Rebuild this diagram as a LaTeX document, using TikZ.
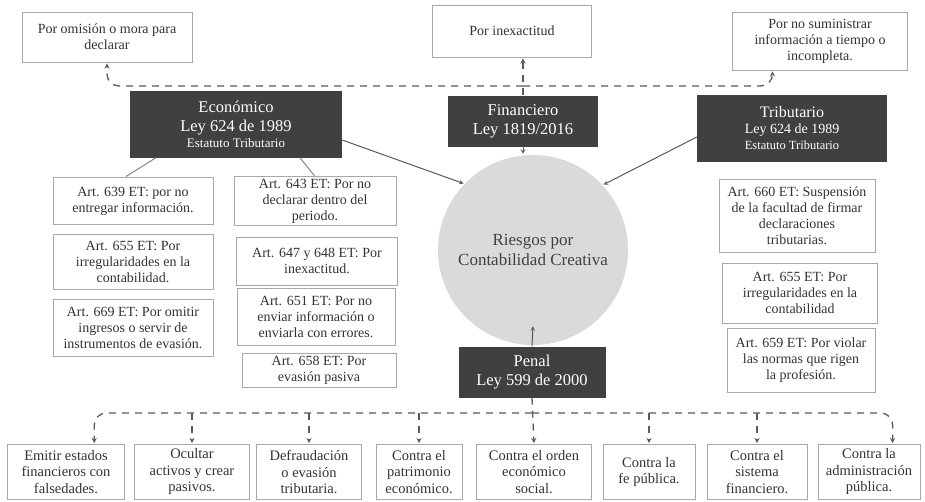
\documentclass[tikz,border=0pt]{standalone}
\usepackage{fontspec}
\setmainfont{Liberation Serif}
\usetikzlibrary{calc}
\definecolor{oscuro}{HTML}{404040}
\definecolor{borde}{HTML}{A8A8A8}
\definecolor{circulo}{HTML}{DADADA}
\definecolor{trazo}{HTML}{5A5A5A}

\begin{document}
\begin{tikzpicture}[x=1pt,y=-1pt,shorten >=1pt,>=stealth]
  \def\fa{14}
  \def\fb{16.5}

\tikzstyle{ley}=[fill=oscuro,text=white,align=center,inner sep=2pt,font=\fontsize{\fb}{19}\selectfont]
\tikzstyle{art}=[draw=borde,line width=0.8pt,align=center,inner sep=2pt,text=black!80,font=\fontsize{\fa}{16}\selectfont]
\tikzstyle{delito}=[art,minimum height=55pt,font=\fontsize{14.5}{16.5}\selectfont]
\tikzstyle{enlace}=[draw=trazo,line width=1.3pt,dash pattern=on 7pt off 6pt,->]
\tikzstyle{flecha}=[draw=trazo,line width=1pt,->]
\tikzstyle{rama}=[draw=borde!80!black,line width=1pt]
\path[use as bounding box,fill=white] (0,0) rectangle (925,501);

\node[art,minimum width=170pt,minimum height=50pt] (omision) at (107,37) {Por omisión o mora para\\declarar};
\node[art,minimum width=159pt,minimum height=52pt] (inexac) at (512,31) {Por inexactitud};
\node[art,minimum width=175pt,minimum height=58pt] (sumin) at (820,41) {Por no suministrar\\información a tiempo o\\incompleta.};

\node[ley,minimum width=212pt,minimum height=67pt] (econ) at (236,124) {Económico\\Ley 624 de 1989\\[-3pt]{\fontsize{13}{14}\selectfont Estatuto Tributario}};
\node[ley,minimum width=150pt,minimum height=51pt] (fin) at (523,121) {Financiero\\Ley 1819/2016};
\node[ley,minimum width=190pt,minimum height=67pt,font=\fontsize{14}{16}\selectfont] (trib) at (792,128) {{\fontsize{16}{17}\selectfont Tributario}\\Ley 624 de 1989\\{\fontsize{12.5}{14}\selectfont Estatuto Tributario}};
\node[ley,minimum width=147pt,minimum height=51pt] (penal) at (532,372) {Penal\\Ley 599 de 2000};

\node[circle,fill=circulo,minimum size=190pt,align=center,text=black!75,font=\fontsize{17}{20}\selectfont] (circ) at (533,250) {Riesgos por\\Contabilidad Creativa};

\node[art,minimum width=160pt,minimum height=47pt] (art639) at (133,201) {Art. 639 ET: por no\\entregar información.};
\node[art,minimum width=160pt,minimum height=55pt] (art655a) at (133,262) {Art. 655 ET: Por\\irregularidades en la\\contabilidad.};
\node[art,minimum width=160pt,minimum height=57pt] (art669) at (133,328) {Art. 669 ET: Por omitir\\ingresos o servir de\\instrumentos de evasión.};

\node[art,minimum width=162pt,minimum height=47pt] (art643) at (315,201) {Art. 643 ET: Por no\\declarar dentro del\\periodo.};
\node[art,minimum width=161pt,minimum height=48pt] (art647) at (317,261) {Art. 647 y 648 ET: Por\\inexactitud.};
\node[art,minimum width=158pt,minimum height=57pt] (art651) at (316,317) {Art. 651 ET: Por no\\enviar información o\\enviarla con errores.};
\node[art,minimum width=154pt,minimum height=34pt] (art658) at (319,370) {Art. 658 ET: Por\\evasión pasiva};

\node[art,minimum width=156pt,minimum height=73pt] (art660) at (797,216) {Art. 660 ET: Suspensión\\de la facultad de firmar\\declaraciones\\tributarias.};
\node[art,minimum width=155pt,minimum height=60pt] (art655b) at (800,293) {Art. 655 ET: Por\\irregularidades en la\\contabilidad};
\node[art,minimum width=148pt,minimum height=64pt] (art659) at (801,360) {Art. 659 ET: Por violar\\las normas que rigen\\la profesión.};

\node[delito,minimum width=117pt] (delA) at (66,472) {Emitir estados\\financieros con\\falsedades.};
\node[delito,minimum width=115pt] (delB) at (192,472) {Ocultar\\activos y crear\\pasivos.};
\node[delito,minimum width=105pt] (delC) at (309,472) {Defraudación\\o evasión\\tributaria.};
\node[delito,minimum width=86pt] (delD) at (419,472) {Contra el\\patrimonio\\económico.};
\node[delito,minimum width=115pt] (delE) at (534,472) {Contra el orden\\económico\\social.};
\node[delito,minimum width=92pt] (delF) at (649,472) {Contra la\\fe pública.};
\node[delito,minimum width=100pt] (delG) at (757,472) {Contra el\\sistema\\financiero.};
\node[delito,minimum width=102pt] (delH) at (869,472) {Contra la\\administración\\pública.};

\coordinate (busA) at (fin.north |- 0,86);
\coordinate (busB) at (penal.south |- 0,413);

\draw[enlace] (fin.north) -- (fin.north |- inexac.south);
\draw[enlace,rounded corners=12pt] (busA) -| (omision.south);
\draw[enlace,rounded corners=12pt] (busA) -| ($(sumin.south west)!0.23!(sumin.south east)$);

\draw[enlace] (penal.south) -- (delE.north);
\draw[enlace,rounded corners=12pt] (busB) -| ($(delA.north west)!0.74!(delA.north east)$);
\draw[enlace,rounded corners=12pt] (busB) -| ($(delH.north west)!0.73!(delH.north east)$);
\foreach \d in {delB,delC,delD,delF,delG}
  \draw[enlace] (\d.north |- busB) -- (\d.north);

\draw[flecha] (econ.east) ++(0,16) -- (circ.136);
\draw[flecha] (trib.west) ++(0,9) -- (circ.43);
\draw[flecha] (fin.south) -- (fin.south |- circ.north);
\draw[flecha] (penal.north) -- ([yshift=20pt]circ.south);

\draw[rama] ([xshift=-80pt]econ.south) -- ([xshift=-8pt]art639.north);
\draw[rama] ([xshift=64pt]econ.south) -- (art643.north);
\end{tikzpicture}
\end{document}
